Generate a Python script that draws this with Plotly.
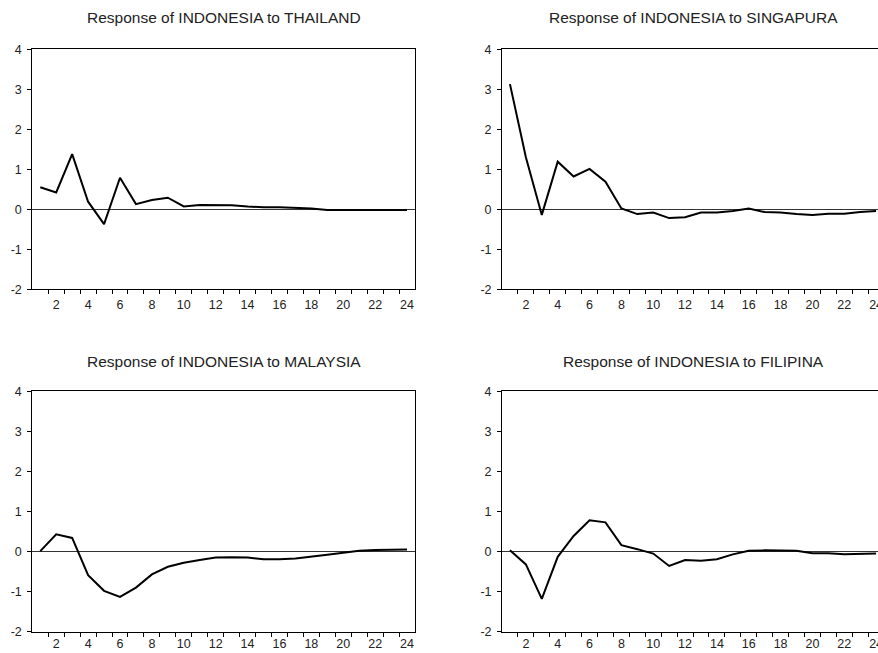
import plotly.graph_objects as go

periods = list(range(1, 25))

thailand = [0.55, 0.42, 1.38, 0.19, -0.37, 0.79, 0.13, 0.23, 0.29, 0.07, 0.11, 0.11,
            0.10, 0.07, 0.05, 0.05, 0.03, 0.02, -0.02, -0.02, -0.02, -0.02, -0.02, -0.02]
singapura = [3.13, 1.30, -0.14, 1.19, 0.82, 1.01, 0.69, 0.02, -0.12, -0.08, -0.22, -0.20,
             -0.08, -0.08, -0.04, 0.02, -0.07, -0.08, -0.12, -0.14, -0.11, -0.11, -0.07, -0.04]
malaysia = [0.01, 0.43, 0.34, -0.59, -0.98, -1.13, -0.90, -0.57, -0.38, -0.28, -0.21, -0.15,
            -0.14, -0.15, -0.19, -0.19, -0.17, -0.13, -0.08, -0.03, 0.02, 0.04, 0.05, 0.05]
filipina = [0.03, -0.32, -1.18, -0.13, 0.39, 0.78, 0.73, 0.16, 0.06, -0.05, -0.36, -0.21,
            -0.23, -0.19, -0.07, 0.02, 0.03, 0.03, 0.02, -0.04, -0.04, -0.07, -0.06, -0.05]

titles = ["Response of INDONESIA to THAILAND", "Response of INDONESIA to SINGAPURA",
          "Response of INDONESIA to MALAYSIA", "Response of INDONESIA to FILIPINA"]
series = [thailand, singapura, malaysia, filipina]

x_label_vals = list(range(2, 25, 2))
x_minor_vals = [i + 0.5 for i in range(1, 24)]
y_vals = [-2, -1, 0, 1, 2, 3, 4]

W, H = 878, 653
left_dom = [32.3 / W, 415 / W]
right_dom = [502 / W, 1.0]
top_dom = [1 - 289.3 / H, 1 - 49.3 / H]
bot_dom = [1 - 631.7 / H, 1 - 391.3 / H]

fig = go.Figure()
layout = dict(width=W, height=H, margin=dict(l=0, r=0, t=0, b=0, pad=0, autoexpand=False),
              paper_bgcolor="white", plot_bgcolor="white", showlegend=False,
              font=dict(family="Liberation Sans, Arial", color="#222222"))

panels = [(left_dom, top_dom, [0.5, 24.5], True, 0),
          (right_dom, top_dom, [0.5, 24.12], False, 0),
          (left_dom, bot_dom, [0.5, 24.5], True, -4),
          (right_dom, bot_dom, [0.5, 24.12], False, -4)]

annotations = []
for i, ((xd, yd, xr, full, xstand), vals, title) in enumerate(zip(panels, series, titles)):
    n = "" if i == 0 else str(i + 1)
    fig.add_trace(go.Scatter(x=periods, y=vals, mode="lines",
                             line=dict(color="black", width=2),
                             xaxis="x" + n, yaxis="y" + n, hoverinfo="skip"))
    layout["xaxis" + n] = dict(domain=xd, range=xr, anchor="y" + n, automargin=False,
                               showline=True, linecolor="black", linewidth=1, mirror=True,
                               showgrid=False, zeroline=False,
                               tickmode="array", tickvals=x_label_vals,
                               ticktext=[str(v) for v in x_label_vals],
                               ticks="outside", ticklen=4, tickcolor="rgba(0,0,0,0)",
                               ticklabeloverflow="allow", ticklabelstandoff=xstand,
                               tickfont=dict(size=12.5),
                               minor=dict(tickmode="array", tickvals=x_minor_vals,
                                          ticks="outside", ticklen=4, tickcolor="black",
                                          showgrid=False))
    layout["yaxis" + n] = dict(domain=yd, range=[-2, 4], anchor="x" + n, automargin=False,
                               showline=True, linecolor="black", linewidth=1, mirror=full,
                               showgrid=False, zeroline=True, zerolinecolor="#333333",
                               zerolinewidth=1,
                               tickmode="array", tickvals=y_vals,
                               ticktext=[str(v) for v in y_vals],
                               ticks="outside", ticklen=4, tickcolor="black",
                               ticklabelstandoff=3,
                               tickfont=dict(size=12.5))
    xc = (32.3 + 415) / 2 / W if xd is left_dom else (502 + 884.7) / 2 / W
    yc = 17 if yd is top_dom else 361.7
    annotations.append(dict(text=title, x=xc, y=1 - yc / H, xref="paper", yref="paper",
                            xanchor="center", yanchor="middle", showarrow=False,
                            font=dict(size=15.5, color="#222222")))

layout["annotations"] = annotations
fig.update_layout(**layout)
fig.write_html("out.html", config={"displayModeBar": False},
               post_script="document.body.style.margin='0';document.body.style.overflow='hidden';")
